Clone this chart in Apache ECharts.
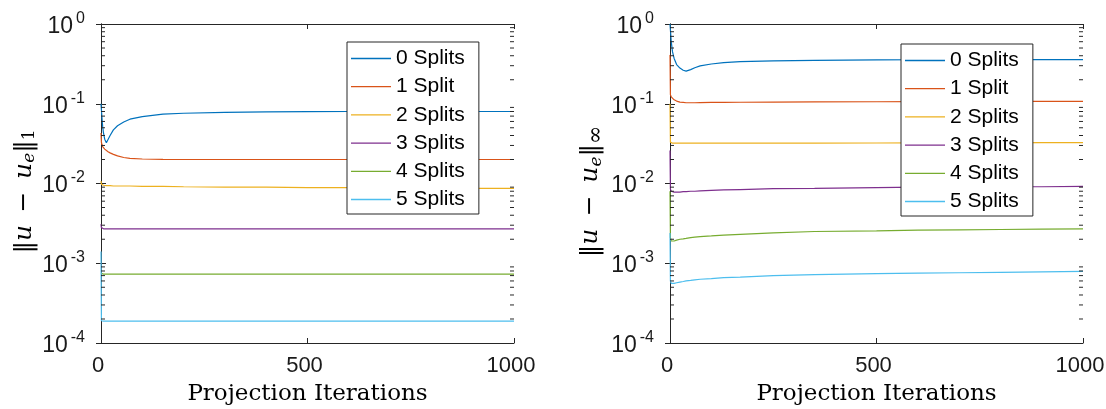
<!DOCTYPE html>
<html><head><meta charset="utf-8">
<script src="https://cdn.jsdelivr.net/npm/echarts@6/dist/echarts.min.js"></script>
<style>html,body{margin:0;padding:0;background:#fff}#c{width:1106px;height:409px}</style>
</head><body><div id="c"></div>
<script>
// ---------- data ----------
const seriesNames = ['0 Splits', '1 Split', '2 Splits', '3 Splits', '4 Splits', '5 Splits'];
const xTickValues = [0, 500, 1000];
const yDecadeTicks = [1e-4, 1e-3, 1e-2, 1e-1, 1];
const minorMultipliers = [2, 3, 4, 5, 6, 7, 8, 9];

// left panel: ||u - u_e||_1
const iterL = [0, 1, 2, 4, 6, 9, 13, 17, 22, 30, 40, 55, 70, 100, 150, 200, 300, 400, 500, 600, 700, 800, 900, 1000];
const l1Split0 = [0.100, 0.085, 0.070, 0.052, 0.043, 0.036, 0.0325, 0.034, 0.040, 0.047, 0.053, 0.059, 0.064, 0.069, 0.074, 0.076, 0.078, 0.079, 0.0795, 0.080, 0.080, 0.080, 0.080, 0.080];
const l1Split1 = [0.043, 0.033, 0.031, 0.029, 0.028, 0.027, 0.026, 0.025, 0.0242, 0.0232, 0.0222, 0.0212, 0.0207, 0.0203, 0.0201, 0.0200, 0.0200, 0.0200, 0.0200, 0.0200, 0.0200, 0.0200, 0.0200, 0.0200];
const l1Split2 = [0.0107, 0.0098, 0.0096, 0.0095, 0.0095, 0.0094, 0.0094, 0.0094, 0.0094, 0.0093, 0.0093, 0.0093, 0.0093, 0.0092, 0.0092, 0.0091, 0.0090, 0.0090, 0.0089, 0.0089, 0.0088, 0.0088, 0.0087, 0.0087];
const l1Split3 = [0.0031, 0.0028, 0.0027, 0.0027, 0.0027, 0.0027, 0.0027, 0.0027, 0.0027, 0.0027, 0.0027, 0.0027, 0.0027, 0.0027, 0.0027, 0.0027, 0.0027, 0.0027, 0.0027, 0.0027, 0.0027, 0.0027, 0.0027, 0.0027];
const l1Split4 = [0.00075, 0.00073, 0.00073, 0.00073, 0.00073, 0.00073, 0.00073, 0.00073, 0.00073, 0.00073, 0.00073, 0.00073, 0.00073, 0.00073, 0.00073, 0.00073, 0.00073, 0.00073, 0.00073, 0.00073, 0.00073, 0.00073, 0.00073, 0.00073];
const l1Split5 = [0.0014, 0.00019, 0.000188, 0.000188, 0.000188, 0.000188, 0.000188, 0.000188, 0.000188, 0.000188, 0.000188, 0.000188, 0.000188, 0.000188, 0.000188, 0.000188, 0.000188, 0.000188, 0.000188, 0.000188, 0.000188, 0.000188, 0.000188, 0.000188];

// right panel: ||u - u_e||_inf
const iterR = [0, 1, 3, 6, 10, 16, 24, 32, 39, 50, 60, 73, 100, 130, 170, 250, 350, 500, 600, 700, 800, 900, 1000];
const linfSplit0 = [1.0, 0.85, 0.60, 0.45, 0.37, 0.31, 0.28, 0.263, 0.257, 0.268, 0.283, 0.298, 0.315, 0.327, 0.337, 0.345, 0.350, 0.354, 0.356, 0.357, 0.358, 0.358, 0.358];
const linfSplit1 = [0.41, 0.13, 0.122, 0.116, 0.112, 0.108, 0.105, 0.104, 0.103, 0.103, 0.103, 0.1035, 0.104, 0.1042, 0.1045, 0.105, 0.1055, 0.106, 0.1063, 0.1066, 0.1068, 0.107, 0.107];
const linfSplit2 = [0.10, 0.033, 0.032, 0.032, 0.032, 0.032, 0.032, 0.032, 0.032, 0.032, 0.032, 0.032, 0.032, 0.032, 0.032, 0.032, 0.032, 0.0322, 0.0323, 0.0324, 0.0324, 0.0325, 0.0325];
const linfSplit3 = [0.026, 0.0085, 0.0080, 0.0079, 0.0078, 0.0078, 0.0078, 0.0079, 0.0079, 0.0080, 0.0080, 0.0081, 0.0082, 0.0083, 0.0084, 0.0086, 0.0087, 0.0089, 0.0090, 0.0090, 0.0091, 0.0091, 0.0092];
const linfSplit4 = [0.008, 0.0021, 0.0019, 0.0019, 0.0019, 0.00195, 0.0020, 0.00202, 0.00205, 0.0021, 0.00213, 0.00216, 0.0022, 0.00225, 0.0023, 0.0024, 0.0025, 0.00255, 0.0026, 0.00262, 0.00265, 0.00268, 0.0027];
const linfSplit5 = [0.0024, 0.0006, 0.00056, 0.00056, 0.00056, 0.00057, 0.00058, 0.00059, 0.0006, 0.00061, 0.00062, 0.00063, 0.00064, 0.00066, 0.00067, 0.00070, 0.00072, 0.00074, 0.00075, 0.00076, 0.00077, 0.00078, 0.00079];

// ---------- styling ----------
const colors = ['#0072BD', '#D95319', '#EDB120', '#7E2F8E', '#77AC30', '#4DBEEE'];
const axisColor = '#262626';
const sans = 'Liberation Sans';
const serif = 'DejaVu Serif';

const leftVals = [l1Split0, l1Split1, l1Split2, l1Split3, l1Split4, l1Split5];
const rightVals = [linfSplit0, linfSplit1, linfSplit2, linfSplit3, linfSplit4, linfSplit5];
const minorTickValues = yDecadeTicks.slice(0, 4).flatMap(d => minorMultipliers.map(k => k * d));

const grids = [
  {left: 101, top: 24, width: 413, height: 319, outerBoundsMode: 'none', containLabel: false},
  {left: 670, top: 24, width: 413, height: 319, outerBoundsMode: 'none', containLabel: false}
];

function xAxes(gi) {
  return [
    {gridIndex: gi, type: 'value', min: xTickValues[0], max: xTickValues[2], interval: xTickValues[1] - xTickValues[0], position: 'bottom',
     name: 'Projection Iterations', nameLocation: 'middle', nameGap: 40,
     nameTextStyle: {fontFamily: serif, fontSize: 23, color: '#000'},
     axisLine: {lineStyle: {color: axisColor, width: 1}},
     axisTick: {inside: true, length: 5, lineStyle: {color: axisColor}},
     axisLabel: {margin: 12, formatter: v => '{n|' + v + '}',
       rich: {n: {fontFamily: sans, fontSize: 22, color: '#1a1a1a', padding: [0, 6, 0, 0]}}},
     splitLine: {show: false}},
    {gridIndex: gi, type: 'value', min: xTickValues[0], max: xTickValues[2], interval: xTickValues[1] - xTickValues[0], position: 'top',
     axisLine: {lineStyle: {color: axisColor, width: 1}},
     axisTick: {inside: true, length: 5, lineStyle: {color: axisColor}},
     axisLabel: {show: false}, splitLine: {show: false}}
  ];
}
const supRich = {
  b: {fontFamily: sans, fontSize: 23, color: '#1a1a1a', padding: [5, 0, 0, 0]},
  s: {fontFamily: sans, fontSize: 16, color: '#1a1a1a', padding: [0, 0, 11, 3]}
};
function yAxes(gi, nameStr, nameRich) {
  return [
    {gridIndex: gi, type: 'log', logBase: 10, min: yDecadeTicks[0], max: yDecadeTicks[4], interval: 1, position: 'left',
     name: nameStr, nameLocation: 'middle', nameRotate: 90, nameGap: 61,
     nameTextStyle: {rich: nameRich, padding: [0, 16, 0, 0]},
     axisLine: {lineStyle: {color: axisColor, width: 1}},
     axisTick: {inside: true, length: 5, lineStyle: {color: axisColor}},
     axisLabel: {margin: 16, rich: supRich,
       formatter: v => '{b|10}{s|' + Math.round(Math.log10(v)) + '}'},
     splitLine: {show: false}, minorTick: {show: false}},
    {gridIndex: gi, type: 'log', logBase: 10, min: yDecadeTicks[0], max: yDecadeTicks[4], interval: 1, position: 'right',
     axisLine: {lineStyle: {color: axisColor, width: 1}},
     axisTick: {inside: true, length: 5, lineStyle: {color: axisColor}},
     axisLabel: {show: false}, splitLine: {show: false}}
  ];
}
const nameRichBase = {
  t: {fontFamily: serif, fontSize: 25, color: '#000'},
  i: {fontFamily: serif, fontStyle: 'italic', fontSize: 25, color: '#000'},
  sub: {fontFamily: serif, fontStyle: 'italic', fontSize: 17, color: '#000', padding: [11, 0, 0, 0]},
  subr: {fontFamily: serif, fontSize: 17, color: '#000', padding: [11, 0, 0, 0]},
  subinf: {fontFamily: serif, fontSize: 22, color: '#000', padding: [11, 0, 0, 0]}
};

// minor ticks drawn as short horizontal bar symbols on the left and right box edges
function minorTickSeries(xi, yi, xVal, offset) {
  return {
    type: 'scatter', name: 'minorTicks', xAxisIndex: xi, yAxisIndex: yi, silent: true, zlevel: 1, z: 10, clip: false,
    symbol: 'rect', symbolSize: [4, 1], symbolOffset: [offset, 0],
    itemStyle: {color: axisColor, opacity: 1},
    emphasis: {disabled: true},
    data: minorTickValues.map(v => [xVal, v])
  };
}

const series = [];
seriesNames.forEach((n, k) => {
  series.push({type: 'line', name: n, xAxisIndex: 0, yAxisIndex: 0, showSymbol: false, symbol: 'none',
    lineStyle: {width: 1.2, color: colors[k]}, itemStyle: {color: colors[k]}, z: 3,
    data: iterL.map((x, i) => [x, leftVals[k][i]])});
});
seriesNames.forEach((n, k) => {
  series.push({type: 'line', name: n, xAxisIndex: 2, yAxisIndex: 2, showSymbol: false, symbol: 'none',
    lineStyle: {width: 1.2, color: colors[k]}, itemStyle: {color: colors[k]}, z: 3,
    data: iterR.map((x, i) => [x, rightVals[k][i]])});
});
series.push(minorTickSeries(0, 0, xTickValues[0], 2));
series.push(minorTickSeries(0, 0, xTickValues[2], -2));
series.push(minorTickSeries(2, 2, xTickValues[0], 2));
series.push(minorTickSeries(2, 2, xTickValues[2], -2));

function legendAt(left, top) {
  return {left: left, top: top, orient: 'vertical', data: seriesNames, selectedMode: false,
    icon: 'rect', itemWidth: 40, itemHeight: 1.3, itemGap: 7.2,
    padding: [6, 14, 4, 4], backgroundColor: '#fff', borderColor: axisColor, borderWidth: 1,
    textStyle: {fontFamily: sans, fontSize: 21, color: '#000', lineHeight: 20}};
}

const chart = echarts.init(document.getElementById('c'), null, {renderer: 'canvas'});
chart.setOption({
  animation: false,
  backgroundColor: '#fff',
  grid: grids,
  xAxis: [...xAxes(0), ...xAxes(1)],
  yAxis: [
    ...yAxes(0, '{t|‖}{i|u}{t|\u2002−\u2002}{i|u}{sub|e}{t|‖}{subr|1}', nameRichBase),
    ...yAxes(1, '{t|‖}{i|u}{t|\u2002−\u2002}{i|u}{sub|e}{t|‖}{subinf|∞}', nameRichBase)
  ],
  legend: [legendAt(347, 42), legendAt(901, 44)],
  series: series
});
</script></body></html>
